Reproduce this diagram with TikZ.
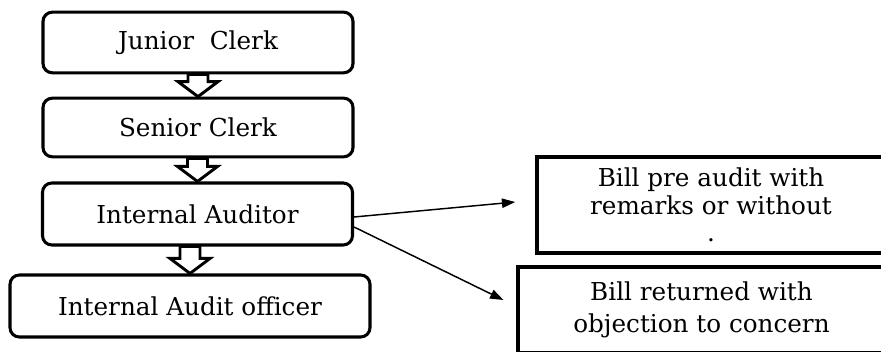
\documentclass[tikz,border=0pt]{standalone}
\usepackage{fontspec}
\setmainfont{DejaVu Serif}
\usetikzlibrary{calc,arrows.meta}

\tikzset{
	staff/.style={draw, line width=2.3pt, rounded corners=7pt, minimum width=232.5pt, minimum height=45.5pt, inner sep=0pt, font=\fontsize{18.5}{22}\selectfont},
	bill/.style={draw, line width=2.6pt, align=center, inner sep=0pt, font=\fontsize{18.5}{20.5}\selectfont},
	flow/.style={line width=1.1pt, -{Triangle[length=10pt,width=7pt]}},
	hollow/.style={line width=2.2pt, line join=miter, fill=white},
}

\begin{document}
\begin{tikzpicture}[x=0.75pt,y=-0.75pt]
	\newcommand\HollowArrow[2]{
		\draw[hollow] ($(#1.south -| #2.north)+(-10,0)$) -- ($(#1.south -| #2.north)+(10,0)$)
			-- ($(#2.north)+(10,-15)$) -- ($(#2.north)+(20,-15)$) -- (#2.north)
			-- ($(#2.north)+(-20,-15)$) -- ($(#2.north)+(-10,-15)$) -- cycle;
	}
	\useasboundingbox (0,0) rectangle (881,352);
	\clip (0,0) rectangle (881,352);

	% staff chain
	\node[staff] (jc) at (198,42.5) {Junior~ Clerk};
	\node[staff, minimum height=44pt] (sc) at (198,127.5) {Senior Clerk};
	\node[staff, minimum height=46.5pt] (ia) at (197.5,214) {Internal Auditor};
	\node[staff, minimum width=270pt, minimum height=46.5pt] (iao) at (190,306) {Internal Audit officer};

	% outcomes
	\node[bill, minimum width=261pt, minimum height=72pt] (pre) at (711,205) {Bill pre audit with\\remarks or without\\.};
	\node[bill, minimum width=275pt, minimum height=64.5pt] (ret) at (701.5,310) {Bill returned with\\[4pt]objection to concern};

	\HollowArrow{jc}{sc}
	\HollowArrow{sc}{ia}
	\HollowArrow{ia}{iao}

	\draw[flow] ($(ia.east)+(0,3)$) -- ($(pre.west)+(-20,-3)$);
	\draw[flow] ($(ia.east)+(0,13)$) -- ($(ret.west)+(-13,-10)$);
\end{tikzpicture}
\end{document}
